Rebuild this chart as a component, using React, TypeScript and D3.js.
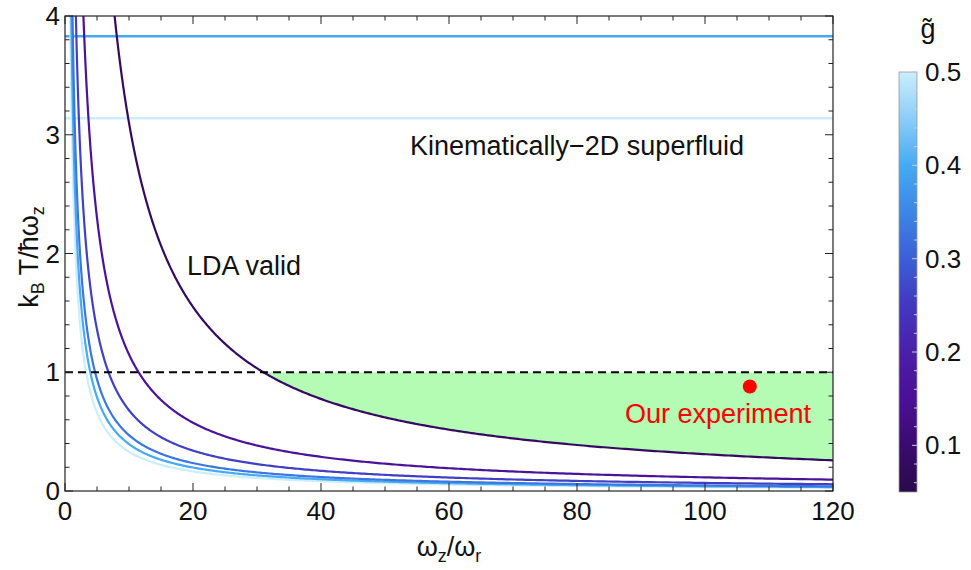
import React from "react";
import * as d3 from "d3";

// Trap-aspect axis and temperature axis
const xDomain = [0, 120];
const yDomain = [0, 4];
const xMajorTicks = [0, 20, 40, 60, 80, 100, 120];
const yMajorTicks = [0, 1, 2, 3, 4];

// LDA validity boundaries: k_B T/ħω_z = crossing / (ω_z/ω_r), one per interaction strength g̃
const curveG = [0.5, 0.4, 0.33, 0.26, 0.16, 0.08];
const curveCrossing = [3.3, 3.95, 4.7, 6.8, 11.5, 31];

// Kinematically-2D thresholds (k_B T/ħω_z) for the larger g̃ values
const k2dG = [0.4, 0.5];
const k2dLevel = [3.83, 3.14];

// Experimental point
const expAspect = 107;
const expTemp = 0.88;

// Colour bar
const gDomain = [0.05, 0.5];
const gTicks = [0.1, 0.2, 0.3, 0.4, 0.5];
const gStops = [0.05, 0.1, 0.15, 0.2, 0.25, 0.3, 0.35, 0.4, 0.45, 0.5];
const gColors = [
  "#2a0a4a", "#3a0b70", "#4a1096", "#4b1fa8", "#4238c0",
  "#3b5fd6", "#3d86e6", "#45aaf2", "#8ccdf8", "#cbedfc",
];

const W = 971;
const H = 570;
const left = 65, right = 833, top = 16, bottom = 491;
const FONT = "'Liberation Sans', Arial, Helvetica, sans-serif";

export default function App() {
  const x = d3.scaleLinear().domain(xDomain).range([left, right]);
  const y = d3.scaleLinear().domain(yDomain).range([bottom, top]);
  const gColor = d3.scaleLinear<string>().domain(gStops).range(gColors).interpolate(d3.interpolateRgb);

  const cbX = 899, cbW = 18, cbTop = 72, cbBottom = 492;
  const gy = d3.scaleLinear().domain(gDomain).range([cbBottom, cbTop]);

  const line = d3.line<[number, number]>().x((d) => x(d[0])).y((d) => y(d[1]));

  const curvePoints = (c: number): [number, number][] => {
    const x0 = c / 4.3;
    const n = 500;
    const pts: [number, number][] = [];
    for (let i = 0; i <= n; i++) {
      const xv = x0 * Math.pow(120 / x0, i / n);
      pts.push([xv, c / xv]);
    }
    return pts;
  };

  // Shaded region: below T = ħω_z/k_B and above the weakest-interaction boundary
  const cDark = curveCrossing[curveCrossing.length - 1];
  const areaPts: [number, number][] = curvePoints(cDark).filter((p) => p[0] >= cDark);
  const area = d3
    .area<[number, number]>()
    .x((d) => x(d[0]))
    .y0((d) => y(d[1]))
    .y1(() => y(1));

  const xMinor = d3.range(0, 120.01, 5);
  const yMinor = d3.range(0, 4.001, 0.2);
  const gMinor = d3.range(0.06, 0.501, 0.02);

  return (
    <svg width={W} height={H} style={{ position: "absolute", left: 0, top: 0, background: "#fff" }} fontFamily={FONT}>
      <defs>
        <clipPath id="plotClip">
          <rect x={left} y={top} width={right - left} height={bottom - top} />
        </clipPath>
        <linearGradient id="gGrad" x1="0" y1="1" x2="0" y2="0">
          {gStops.map((g, i) => (
            <stop key={i} offset={(g - gDomain[0]) / (gDomain[1] - gDomain[0])} stopColor={gColors[i]} />
          ))}
        </linearGradient>
      </defs>

      <g clipPath="url(#plotClip)">
        <path d={area(areaPts) || ""} fill="#b4fbb4" />
        {k2dLevel.map((lv, i) => (
          <line key={i} x1={x(0)} x2={x(120)} y1={y(lv)} y2={y(lv)} stroke={gColor(k2dG[i])} strokeWidth={2.5} />
        ))}
        {curveCrossing.map((c, i) => (
          <path key={i} d={line(curvePoints(c)) || ""} fill="none" stroke={gColor(curveG[i])} strokeWidth={2.2} />
        ))}
        <line x1={x(0)} x2={x(120)} y1={y(1)} y2={y(1)} stroke="#000" strokeWidth={2} strokeDasharray="8,5" />
        <circle cx={x(expAspect)} cy={y(expTemp)} r={7} fill="#ff0000" />
      </g>

      <text x={410} y={155} fontSize={27} fill="#111">Kinematically−2D superfluid</text>
      <text x={187} y={275} fontSize={27} fill="#111">LDA valid</text>
      <text x={625} y={423} fontSize={27} fill="#ff0000">Our experiment</text>

      {/* frame */}
      <rect x={left} y={top} width={right - left} height={bottom - top} fill="none" stroke="#222" strokeWidth={1.2} />

      {/* ticks */}
      {xMinor.map((v, i) => {
        const major = xMajorTicks.includes(v);
        const len = major ? 8 : 4.5;
        return (
          <g key={"xt" + i} stroke="#222" strokeWidth={1}>
            <line x1={x(v)} x2={x(v)} y1={bottom} y2={bottom - len} />
            <line x1={x(v)} x2={x(v)} y1={top} y2={top + len} />
          </g>
        );
      })}
      {yMinor.map((v, i) => {
        const major = Math.abs(v - Math.round(v)) < 1e-6;
        const len = major ? 8 : 4.5;
        return (
          <g key={"yt" + i} stroke="#222" strokeWidth={1}>
            <line x1={left} x2={left + len} y1={y(v)} y2={y(v)} />
            <line x1={right} x2={right - len} y1={y(v)} y2={y(v)} />
          </g>
        );
      })}

      {xMajorTicks.map((v) => (
        <text key={"xl" + v} x={x(v)} y={520} fontSize={26} textAnchor="middle" fill="#111">{v}</text>
      ))}
      {yMajorTicks.map((v) => (
        <text key={"yl" + v} x={left - 5} y={y(v)} dy="0.35em" fontSize={26} textAnchor="end" fill="#111">{v}</text>
      ))}

      {/* axis titles */}
      <text x={449} y={556} fontSize={27} textAnchor="middle" fill="#111">
        ω<tspan fontSize={18} dy={6}>z</tspan>
        <tspan dy={-6}>/ω</tspan>
        <tspan fontSize={18} dy={6}>r</tspan>
      </text>
      <text transform={`translate(38,257) rotate(-90)`} fontSize={27} textAnchor="middle" fill="#111">
        k<tspan fontSize={18} dy={6}>B</tspan>
        <tspan dy={-6}> T/ħω</tspan>
        <tspan fontSize={18} dy={6}>z</tspan>
      </text>

      {/* colour bar */}
      <rect x={cbX} y={cbTop} width={cbW} height={cbBottom - cbTop} fill="url(#gGrad)" stroke="#999" strokeWidth={0.8} />
      {gMinor.map((g, i) => {
        const isMajor = gTicks.some((t) => Math.abs(t - g) < 1e-6);
        return (
          <line key={"gm" + i} x1={cbX + cbW} x2={cbX + cbW - (isMajor ? 5 : 3)} y1={gy(g)} y2={gy(g)} stroke="#ccc" strokeWidth={1} />
        );
      })}
      {gTicks.map((g) => (
        <text key={"gl" + g} x={cbX + cbW + 8} y={gy(g)} dy="0.35em" fontSize={26} fill="#111">{g.toFixed(1)}</text>
      ))}
      <text x={928} y={38} fontSize={27} textAnchor="middle" fill="#111">g̃</text>
    </svg>
  );
}
